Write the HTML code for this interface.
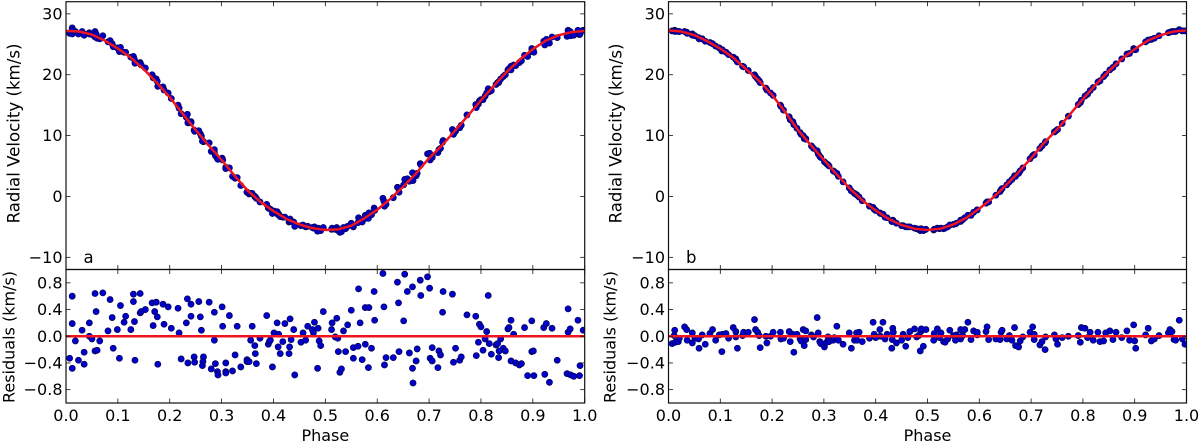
<!DOCTYPE html>
<html lang="en">
<head>
<meta charset="utf-8">
<title>Radial velocity phase curves</title>
<style>
html,body{margin:0;padding:0;background:#fff;}
#figure{display:block;width:1200px;height:442px;}
text{font-family:"DejaVu Sans","Liberation Sans",sans-serif;fill:#000;}
</style>
</head>
<body>
<svg id="figure" xmlns="http://www.w3.org/2000/svg" width="1200" height="442" viewBox="0 0 1200 442"></svg>
<script>
// Tick values
const phaseTicks = [0.0,0.1,0.2,0.3,0.4,0.5,0.6,0.7,0.8,0.9,1.0];
const rvTicks = [30,20,10,0,-10];
const residualTicks = [0.8,0.4,0.0,-0.4,-0.8];
const rvLimits = [-12,32];
const residualLimits = [-1,1];
const zeroLevel = [0,0];
const zeroPhase = [0,1];

// Fitted curves
const modelPhase = [0,.025,.05,.075,.1,.125,.15,.175,.2,.225,.25,.275,.3,.325,.35,.375,.4,.425,.45,.475,.5,.525,.55,.575,.6,.625,.65,.675,.7,.725,.75,.775,.8,.825,.85,.875,.9,.925,.95,.975,1];
const modelA = [27.2,27.1,26.6,25.6,24.3,22.8,20.9,18.7,16.3,13.6,10.9,8.4,6.0,3.4,1.0,-0.9,-2.4,-3.7,-4.6,-5.2,-5.5,-5.4,-4.8,-3.6,-2.2,-0.4,1.6,3.8,6.3,8.4,10.8,13.3,15.8,18.2,20.5,22.5,24.2,25.6,26.5,27.0,27.2];
const modelB = [27.3,27.1,26.5,25.5,24.3,22.8,20.9,19.0,16.7,13.9,10.9,8.4,6.0,3.6,1.3,-0.7,-2.3,-3.7,-4.7,-5.3,-5.5,-5.3,-4.6,-3.5,-2.0,-0.3,1.7,3.9,6.3,8.8,11.0,13.5,16.0,18.4,20.6,22.6,24.2,25.6,26.5,27.1,27.3];

// Panel a observations
const phaseA = [.007,.012,.012,.012,.018,.024,.031,.035,.035,.045,.045,.05,.056,.06,.056,.058,.065,.071,.081,.085,.089,.091,.099,.103,.105,.112,.115,.125,.13,.13,.132,.133,.143,.143,.145,.153,.166,.168,.171,.174,.176,.177,.187,.189,.197,.203,.216,.218,.222,.232,.234,.235,.241,.241,.247,.248,.256,.259,.261,.265,.264,.263,.276,.28,.286,.286,.288,.292,.293,.301,.302,.308,.308,.308,.315,.321,.326,.33,.337,.349,.349,.353,.356,.359,.364,.365,.367,.374,.387,.39,.392,.394,.398,.401,.407,.41,.409,.413,.418,.422,.43,.431,.432,.434,.439,.441,.453,.457,.462,.466,.475,.477,.479,.486,.488,.491,.485,.496,.512,.513,.519,.522,.524,.525,.528,.531,.535,.539,.543,.55,.554,.554,.563,.564,.567,.571,.577,.577,.584,.583,.589,.594,.595,.611,.613,.614,.617,.631,.639,.641,.642,.651,.653,.658,.662,.668,.668,.669,.675,.677,.683,.684,.697,.701,.702,.706,.706,.717,.719,.722,.727,.726,.745,.747,.751,.759,.762,.773,.79,.791,.795,.797,.8,.804,.808,.811,.814,.816,.82,.829,.832,.834,.835,.838,.843,.847,.852,.854,.858,.858,.863,.867,.874,.878,.884,.89,.898,.898,.901,.902,.921,.923,.926,.932,.937,.947,.966,.968,.968,.972,.973,.979,.987,.99,.991,.997];
const rvA = [26.8,27.7,26.7,27.3,27.1,26.7,27.1,26.7,26.5,26.9,26.7,26.6,26.2,26.0,27.1,26.7,25.9,26.4,25.4,25.6,25.1,24.6,24.4,23.8,24.5,23.7,23.7,22.9,23.0,23.0,22.5,21.9,22.0,21.8,21.6,21.1,20.0,19.5,19.4,19.3,18.9,18.1,18.0,17.5,17.0,16.1,15.0,14.5,13.6,13.0,13.5,12.1,12.3,12.1,10.9,10.7,10.8,10.3,9.9,9.0,9.1,9.1,8.8,7.4,7.3,7.7,6.7,6.2,6.1,6.3,6.0,4.6,4.8,4.6,4.7,3.3,3.0,3.1,1.8,0.7,0.7,0.4,0.5,0.5,0.0,-0.1,-0.3,-0.9,-1.3,-1.9,-2.0,-2.1,-2.8,-2.4,-2.5,-2.9,-3.0,-3.3,-3.4,-3.4,-4.2,-4.1,-3.7,-4.1,-4.2,-4.9,-4.8,-4.7,-5.0,-4.9,-5.1,-5.2,-5.0,-5.2,-5.4,-5.6,-5.7,-5.1,-5.4,-5.2,-5.4,-5.1,-5.4,-5.6,-5.9,-5.8,-5.1,-5.3,-4.9,-4.4,-5.0,-4.9,-4.3,-3.5,-3.8,-4.2,-3.1,-3.6,-2.7,-3.6,-3.0,-1.9,-2.3,-0.3,-0.8,-1.6,-1.3,-0.2,1.5,1.4,0.7,1.9,2.8,2.9,2.5,3.9,2.7,2.6,3.4,3.8,5.4,5.2,7.0,7.1,6.0,6.6,6.4,7.2,7.7,7.9,9.2,8.9,11.0,10.2,10.7,11.3,11.7,13.4,15.1,14.6,15.2,15.7,15.9,15.9,16.5,17.0,17.7,17.2,17.4,18.4,18.7,18.7,18.9,19.3,19.7,20.0,20.8,21.0,21.4,20.8,21.6,21.5,22.0,22.3,23.2,23.0,24.3,23.8,24.0,23.7,25.5,24.9,25.8,25.2,26.2,26.1,26.3,27.3,26.9,27.1,26.4,26.5,27.3,26.6,26.7,27.3];
const residualA = [-.33,.60,-.48,.19,-.07,-.36,.09,-.24,-.42,.20,.00,-.04,-.22,-.21,.64,.37,-.07,.65,.08,.55,.28,-.18,.10,-.33,.46,.21,.30,.10,.63,.52,.22,-.36,.64,.35,.37,.40,.50,.16,.37,.51,.29,-.42,.48,.18,.44,.12,.42,.05,-.34,.20,.56,-.40,.48,.30,-.31,-.39,.52,.29,.09,-.31,-.38,-.44,.51,-.49,-.06,.36,-.41,-.53,-.58,.44,.15,-.53,-.40,-.55,.31,-.52,-.28,.15,-.46,-.35,-.38,-.38,-.06,.15,-.14,-.26,-.41,-.03,.31,-.12,-.08,-.06,-.46,.05,.20,.03,-.16,-.26,-.08,.19,-.26,-.16,.26,-.05,.10,-.58,-.09,.05,-.06,.15,.10,.05,.21,.12,-.07,-.14,-.48,.37,.10,.20,-.01,.27,-.03,-.23,-.54,-.49,.08,-.23,.17,.39,-.33,-.17,-.15,.71,.20,-.35,.43,-.12,.43,-.47,-.18,.67,.24,.94,.44,-.43,-.32,-.32,.81,.50,-.23,.23,.93,.67,-.25,.74,-.48,-.70,-.37,-.19,.84,.61,.89,.72,-.33,-.17,-.37,-.47,-.22,-.28,.67,.36,.63,-.39,-.18,-.36,-.31,.32,.30,-.29,-.09,.18,.14,-.21,-.04,.07,.61,-.11,-.27,-.13,-.11,-.32,-.22,-.04,-.18,-.22,.11,.13,.24,-.37,.03,-.40,-.43,-.41,.13,-.59,.23,-.23,-.22,-.59,.13,-.57,.19,-.69,.12,-.36,-.56,.41,.06,.11,-.58,-.60,.24,-.59,-.44,.09];

// Panel b observations
const phaseB = [.007,.012,.011,.013,.019,.021,.031,.035,.036,.046,.046,.051,.058,.059,.065,.071,.08,.085,.091,.098,.103,.104,.111,.116,.125,.13,.13,.133,.143,.145,.154,.166,.168,.172,.175,.177,.188,.19,.197,.202,.216,.217,.222,.233,.235,.24,.242,.248,.254,.256,.26,.262,.265,.265,.276,.28,.287,.289,.292,.294,.301,.305,.308,.31,.318,.32,.325,.328,.337,.349,.353,.359,.363,.364,.368,.374,.388,.395,.397,.4,.408,.409,.414,.418,.422,.431,.433,.434,.432,.44,.45,.453,.458,.462,.466,.475,.479,.483,.486,.487,.488,.492,.497,.512,.513,.519,.523,.526,.531,.534,.539,.543,.55,.554,.556,.564,.564,.568,.572,.578,.584,.589,.596,.596,.613,.615,.618,.632,.64,.642,.644,.653,.658,.663,.668,.67,.676,.679,.684,.698,.703,.706,.706,.717,.721,.727,.728,.745,.748,.751,.76,.772,.791,.795,.797,.804,.809,.814,.82,.829,.833,.84,.844,.852,.858,.864,.875,.885,.89,.898,.9,.902,.921,.926,.932,.938,.947,.965,.968,.972,.976,.979,.986,.992,.997];
const rvB = [27.2,27.3,27.2,27.1,27.1,27.1,27.1,27.0,26.8,26.7,26.5,26.4,26.1,25.9,25.9,25.5,25.3,25.1,24.7,24.4,23.9,24.1,23.7,23.3,22.9,22.6,22.5,22.1,21.4,21.3,20.7,20.0,19.7,19.3,19.0,18.7,17.8,17.5,17.0,16.6,15.0,14.8,14.2,13.1,12.6,12.3,11.8,11.2,10.5,10.2,10.0,9.5,9.5,9.4,8.3,7.9,7.5,7.0,6.6,6.4,5.7,5.4,5.2,5.0,4.2,4.1,3.8,3.3,2.4,1.4,0.9,0.5,0.3,0.2,-0.1,-0.7,-1.6,-1.8,-2.1,-2.3,-2.7,-2.8,-2.9,-3.4,-3.5,-4.1,-3.9,-4.0,-4.1,-4.4,-4.8,-4.8,-5.0,-5.0,-5.0,-5.2,-5.3,-5.4,-5.6,-5.3,-5.3,-5.6,-5.4,-5.5,-5.4,-5.2,-5.3,-5.2,-5.3,-5.2,-5.0,-4.7,-4.6,-4.5,-4.4,-4.1,-3.9,-3.8,-3.5,-3.1,-3.1,-2.6,-2.2,-2.2,-1.1,-0.9,-0.9,0.2,0.8,1.1,1.3,1.9,2.4,2.8,3.4,3.3,3.8,4.2,4.7,6.2,6.7,6.9,6.8,7.9,8.3,8.8,9.0,10.6,10.8,11.0,12.0,13.2,15.1,15.4,15.8,16.5,16.8,17.4,17.9,18.8,19.0,19.7,20.1,20.8,21.2,21.8,22.6,23.4,23.5,24.3,24.1,24.1,25.4,25.7,25.8,26.0,26.4,26.9,27.0,27.1,27.1,27.1,27.4,27.2,27.2];
const residualB = [-.11,.09,.01,-.09,-.08,-.03,.14,.10,-.06,.05,-.10,-.03,-.04,-.18,.02,-.12,.04,.10,-.06,.02,-.23,.03,.04,-.03,.13,.07,-.01,-.18,.01,.06,.06,.25,.10,.06,.01,-.17,0,-.10,0,.06,.06,-.04,-.03,.07,-.08,.03,-.24,.03,-.04,-.07,.10,-.14,.08,-.05,.02,-.01,.28,.05,-.08,-.11,-.16,-.09,-.01,-.08,-.06,-.02,.15,-.06,-.12,.05,-.18,-.06,.05,-.06,.06,-.08,-.03,.21,.03,-.02,.10,0,.21,-.04,.03,-.18,.12,.06,-.05,-.10,-.06,.03,-.15,-.02,.07,.11,-.01,.01,-.22,.07,.11,-.15,.10,-.06,.04,.11,-.02,.05,-.08,-.09,-.04,.09,.01,-.06,.02,-.04,.10,.01,.10,.21,-.05,.08,.02,.06,.07,.14,-.05,-.04,-.05,.06,.09,-.04,.01,-.06,.13,-.14,-.16,-.07,-.01,.06,.14,.03,-.05,-.13,-.08,-.20,-.01,.02,-.04,-.12,-.02,0,.01,-.09,.13,.12,-.02,.06,-.06,.06,-.08,-.07,.05,.08,-.05,.06,-.02,.08,-.06,.17,-.07,-.18,.02,.12,-.07,-.04,.01,.05,.10,.07,-.05,-.06,.24,-.04,-.12];

const SVG_NS = 'http://www.w3.org/2000/svg';
const figure = document.getElementById('figure');

function make(tag, attrs, parent) {
  const el = document.createElementNS(SVG_NS, tag);
  for (const k in attrs) el.setAttribute(k, attrs[k]);
  (parent || figure).appendChild(el);
  return el;
}
function linear(d0, d1, r0, r1) {
  return function (v) { return r0 + (v - d0) / (d1 - d0) * (r1 - r0); };
}

const defs = make('defs', {});
const spineColor = '#111';

function drawAxes(opts) {
  const x = linear(0, 1, opts.left, opts.right);
  const y = linear(opts.limits[0], opts.limits[1], opts.bottom, opts.top);

  const group = make('g', {});
  
  

  const clip = make('clipPath', { id: opts.name + '-clip' }, defs);
  make('rect', { x: opts.left, y: opts.top, width: opts.right - opts.left, height: opts.bottom - opts.top }, clip);

  const marks = make('g', { 'clip-path': 'url(#' + opts.name + '-clip)' }, group);

  const points = make('g', {}, marks);
  
  
  opts.px.forEach(function (p, i) {
    const c = make('circle', { cx: x(p).toFixed(2), cy: y(opts.py[i]).toFixed(2), r: 3.1, fill: '#0000c8', stroke: '#00004a', 'stroke-width': 0.6 }, points);
    
    
  });

  const line = make('polyline', {
    points: opts.lx.map(function (p, i) { return x(p).toFixed(2) + ',' + y(opts.ly[i]).toFixed(2); }).join(' '),
    fill: 'none', stroke: '#ee1420', 'stroke-width': 2.5, 'stroke-linejoin': 'round'
  }, marks);
  
  

  // x ticks on both edges
  phaseTicks.forEach(function (t) {
    const px = x(t).toFixed(2);
    make('line', { x1: px, x2: px, y1: opts.top, y2: opts.top + 4.5, stroke: spineColor, 'stroke-width': 0.8 }, group);
    make('line', { x1: px, x2: px, y1: opts.bottom, y2: opts.bottom - 4.5, stroke: spineColor, 'stroke-width': 0.8 }, group);
    if (opts.xLabels) {
      const tl = make('text', { x: px, y: opts.bottom + 18, 'font-size': 16, 'text-anchor': 'middle' }, group);
      tl.textContent = t.toFixed(1);
      
      
    }
  });

  // y ticks on both edges
  opts.yTicks.forEach(function (t) {
    const py = y(t).toFixed(2);
    make('line', { x1: opts.left, x2: opts.left + 4.5, y1: py, y2: py, stroke: spineColor, 'stroke-width': 0.8 }, group);
    make('line', { x1: opts.right, x2: opts.right - 4.5, y1: py, y2: py, stroke: spineColor, 'stroke-width': 0.8 }, group);
    const tl = make('text', { x: opts.left - 3.5, y: (parseFloat(py) + 5.5).toFixed(2), 'font-size': 16, 'text-anchor': 'end' }, group);
    tl.textContent = opts.yFormat(t);
    
    
  });

  const frame = make('rect', { x: opts.left, y: opts.top, width: opts.right - opts.left, height: opts.bottom - opts.top, fill: 'none', stroke: spineColor, 'stroke-width': 1.2 }, group);
  
  

  const yl = make('text', { x: 0, y: 0, 'font-size': opts.yLabelSize, 'text-anchor': 'middle', transform: 'translate(' + opts.yLabelX + ' ' + opts.yLabelY + ') rotate(-90)' }, group);
  yl.textContent = opts.yLabel;
  
  

  if (opts.xLabels) {
    const xl = make('text', { x: (opts.left + opts.right) / 2, y: 441, 'font-size': 16, 'text-anchor': 'middle' }, group);
    xl.textContent = 'Phase';
    
    
  }
  if (opts.tag) {
    const tag = make('text', { x: opts.left + opts.tagDx, y: 263, 'font-size': 16.5 }, group);
    tag.textContent = opts.tag;
    
    
  }
}

const fmtInt = function (t) { return String(t).replace('-', '\u2212'); };
const fmtDec = function (t) { return t.toFixed(1).replace('-', '\u2212'); };

const panels = [
  { id: 'a', left: 66, right: 584.7, rvTitleX: 19.5, resTitleX: 14.5, px: phaseA, rv: rvA, res: residualA, model: modelA, tagDx: 17.5 },
  { id: 'b', left: 668.5, right: 1186.5, rvTitleX: 621.7, resTitleX: 615.5, px: phaseB, rv: rvB, res: residualB, model: modelB, tagDx: 17.5 }
];

panels.forEach(function (p) {
  drawAxes({
    name: 'rv-panel-' + p.id, left: p.left, right: p.right, top: 1.7, bottom: 269.5,
    limits: rvLimits, yTicks: rvTicks, yFormat: fmtInt, px: p.px, py: p.rv,
    lx: modelPhase, ly: p.model, xLabels: false, yLabel: 'Radial Velocity (km/s)',
    yLabelX: p.rvTitleX, yLabelY: 133.5, yLabelSize: 16.6, tag: p.id, tagDx: p.tagDx
  });
  drawAxes({
    name: 'residual-panel-' + p.id, left: p.left, right: p.right, top: 269.5, bottom: 403,
    limits: residualLimits, yTicks: residualTicks, yFormat: fmtDec, px: p.px, py: p.res,
    lx: zeroPhase, ly: zeroLevel, xLabels: true, yLabel: 'Residuals (km/s)',
    yLabelX: p.resTitleX, yLabelY: 337, yLabelSize: 16
  });
});
</script>
</body>
</html>
